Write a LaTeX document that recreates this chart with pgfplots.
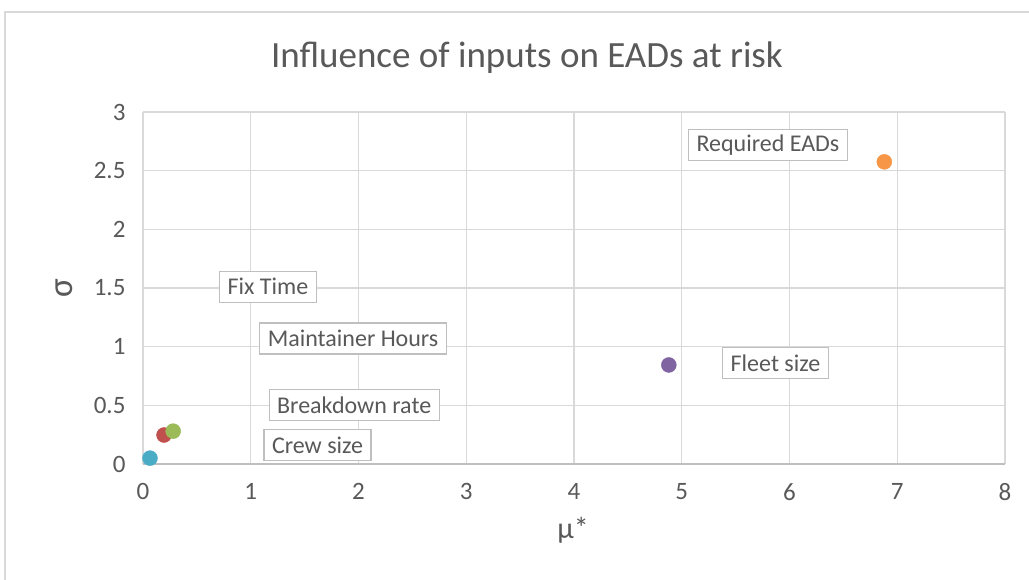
\documentclass[border=0pt]{standalone}
\usepackage{pgfplots}
\pgfplotsset{compat=1.18}
\usepackage{fontspec}
\setmainfont{Carlito}
\definecolor{txt}{HTML}{595959}
\definecolor{grd}{HTML}{D9D9D9}
\definecolor{axl}{HTML}{BFBFBF}
\definecolor{cblue}{HTML}{4BACC6}
\definecolor{cred}{HTML}{C0504D}
\definecolor{cgreen}{HTML}{9BBB59}
\definecolor{cpurple}{HTML}{8064A2}
\definecolor{corange}{HTML}{F79646}
\begin{document}
\begin{tikzpicture}[x=1pt,y=1pt]
\useasboundingbox (0,0) rectangle (1029,580);
\fill[white] (0,0) rectangle (1029,580);
\draw[grd,line width=1.2pt] (5,-5) -- (5,568) -- (1040,568);
\node[txt,font=\fontsize{37}{44}\selectfont] at (527,522) {Influence of inputs on EADs at risk};
\begin{axis}[
  at={(143pt,116pt)}, anchor=south west,
  scale only axis, width=862pt, height=352pt,
  xmin=0, xmax=8, ymin=0, ymax=3,
  xtick={0,1,...,8}, ytick={0,0.5,1,1.5,2,2.5,3},
  yticklabels={0,0.5,1,1.5,2,2.5,3},
  grid=major, major grid style={grd,line width=1.2pt},
  axis line style={draw=none},
  tick style={draw=none},
  /pgf/number format/assume math mode=true,
  ticklabel style={txt,font=\fontsize{25}{30}\selectfont},
  xticklabel style={yshift=-16pt},
  yticklabel style={xshift=-14pt},
  clip=false,
]
\draw[axl,line width=1.2pt] (axis cs:0,0) -- (axis cs:8,0);
\addplot[only marks, mark=*, mark size=7.5pt, cblue, mark options={draw=cblue,fill=cblue}] coordinates {(0.065,0.05)};
\addplot[only marks, mark=*, mark size=7.5pt, cred, mark options={draw=cred,fill=cred}] coordinates {(0.195,0.247)};
\addplot[only marks, mark=*, mark size=7.5pt, cgreen, mark options={draw=cgreen,fill=cgreen}] coordinates {(0.28,0.28)};
\addplot[only marks, mark=*, mark size=7.5pt, cpurple, mark options={draw=cpurple,fill=cpurple}] coordinates {(4.88,0.844)};
\addplot[only marks, mark=*, mark size=7.5pt, corange, mark options={draw=corange,fill=corange}] coordinates {(6.88,2.575)};
\tikzset{lbl/.style={draw=axl,line width=1.2pt,fill=white,text=txt,font=\fontsize{24}{28}\selectfont,inner xsep=8pt,minimum height=31pt}}
\node[lbl] at (axis cs:1.16,1.51) {Fix Time};
\node[lbl] at (axis cs:1.95,1.07) {Maintainer Hours};
\node[lbl] at (axis cs:1.96,0.50) {Breakdown rate};
\node[lbl] at (axis cs:1.62,0.16) {Crew size};
\node[lbl] at (axis cs:5.80,2.72) {Required EADs};
\node[lbl] at (axis cs:5.87,0.86) {Fleet size};
\end{axis}
\node[txt,font=\fontsize{30}{36}\selectfont] at (573,50) {μ*};
\node[txt,font=\fontsize{35}{40}\selectfont,rotate=90] at (64,292) {σ};
\end{tikzpicture}
\end{document}
